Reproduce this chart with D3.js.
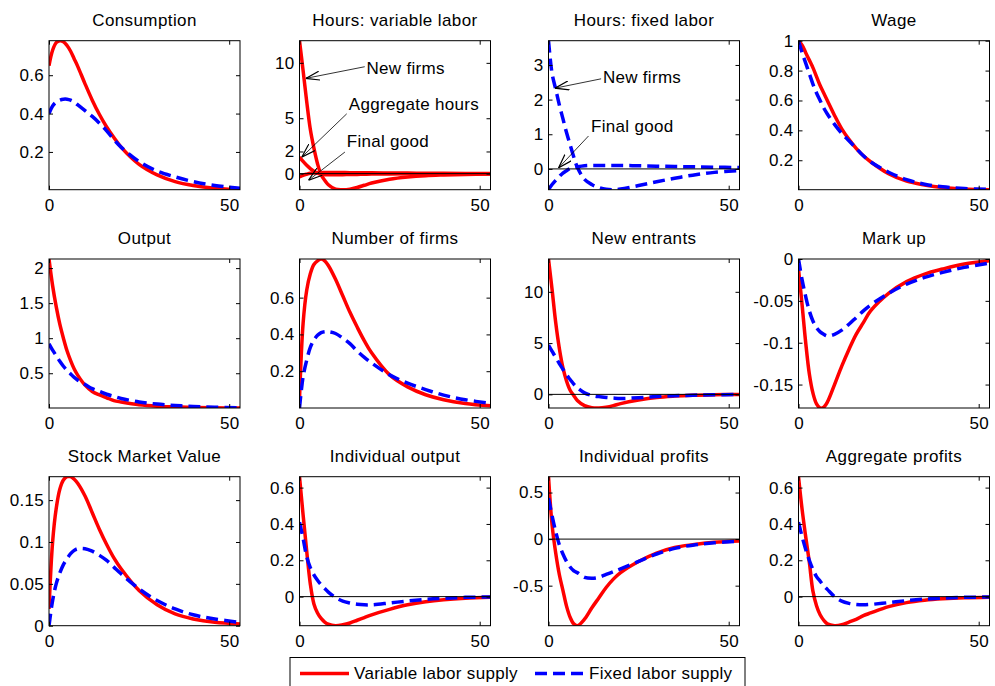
<!DOCTYPE html>
<html>
<head>
<meta charset="utf-8">
<script src="https://cdn.jsdelivr.net/npm/d3@7"></script>
<style>
  body { margin: 0; background: #fff; }
  svg { font-family: 'Liberation Sans', Arial, Helvetica, sans-serif; }
  .axis text { font-size: 17px; letter-spacing: 0.3px; fill: #000; }
  .axis line { stroke: #000; }
  .axis path { display: none; }
  .panel-title { font-size: 17px; letter-spacing: 0.4px; text-anchor: middle; }
  .note { font-size: 17px; letter-spacing: 0.3px; }
  .legend-text { font-size: 17px; letter-spacing: 0.3px; }
</style>
</head>
<body>
<svg id="chart"></svg>
<script>
// Periods after the shock (x values shared by every panel)
const periods = [0, 1, 2, 3, 4, 5, 6, 7, 8, 10, 12, 14, 16, 18, 20, 25, 30, 35, 40, 46, 53];
const xTicks = [0, 50];

// Consumption
const consumptionVariable = [0.65, 0.73, 0.77, 0.78, 0.775, 0.755, 0.725, 0.685, 0.645, 0.555, 0.47, 0.395, 0.33, 0.275, 0.225, 0.135, 0.08, 0.045, 0.025, 0.011, 0.003];
const consumptionFixed = [0.40, 0.44, 0.46, 0.47, 0.475, 0.475, 0.47, 0.46, 0.445, 0.415, 0.385, 0.35, 0.31, 0.265, 0.225, 0.15, 0.1, 0.07, 0.045, 0.025, 0.01];

// Hours: variable labor (three red curves)
const hoursVarNewFirms = [12.0, 9.3, 6.5, 4.0, 2.3, 0.9, -0.1, -0.6, -1.0, -1.4, -1.45, -1.4, -1.25, -1.05, -0.85, -0.5, -0.3, -0.18, -0.12, -0.07, -0.03];
const hoursVarAggregate = [1.5, 1.1, 0.75, 0.45, 0.22, 0.05, -0.05, -0.09, -0.1, -0.1, -0.09, -0.08, -0.07, -0.05, -0.04, -0.03, -0.02, -0.01, -0.01, 0, 0];
const hoursVarFinalGood = [-0.3, -0.15, -0.05, 0.03, 0.06, 0.08, 0.09, 0.1, 0.1, 0.1, 0.1, 0.09, 0.09, 0.08, 0.08, 0.06, 0.05, 0.04, 0.03, 0.02, 0.01];

// Hours: fixed labor (two blue curves)
const hoursFixNewFirms = [3.7, 2.75, 2.3, 1.85, 1.45, 1.05, 0.7, 0.35, 0.05, -0.3, -0.45, -0.54, -0.59, -0.6, -0.58, -0.48, -0.37, -0.27, -0.18, -0.1, -0.05];
const hoursFixFinalGood = [-0.6, -0.45, -0.33, -0.22, -0.12, -0.05, 0.01, 0.04, 0.06, 0.09, 0.1, 0.1, 0.1, 0.1, 0.1, 0.09, 0.08, 0.07, 0.06, 0.05, 0.04];

// Wage
const wageVariable = [1.0, 0.97, 0.92, 0.87, 0.82, 0.76, 0.7, 0.65, 0.6, 0.5, 0.41, 0.34, 0.28, 0.23, 0.19, 0.11, 0.06, 0.035, 0.018, 0.008, 0.003];
const wageFixed = [1.0, 0.92, 0.85, 0.78, 0.71, 0.65, 0.6, 0.55, 0.51, 0.44, 0.38, 0.33, 0.28, 0.23, 0.19, 0.12, 0.07, 0.04, 0.022, 0.011, 0.005];

// Output
const outputVariable = [2.13, 1.75, 1.45, 1.2, 1.0, 0.82, 0.68, 0.56, 0.47, 0.33, 0.24, 0.19, 0.15, 0.11, 0.09, 0.05, 0.03, 0.02, 0.012, 0.007, 0.004];
const outputFixed = [0.92, 0.83, 0.75, 0.67, 0.6, 0.54, 0.49, 0.44, 0.4, 0.34, 0.28, 0.24, 0.2, 0.17, 0.14, 0.09, 0.06, 0.04, 0.025, 0.015, 0.008];

// Number of firms
const firmsVariable = [0.05, 0.46, 0.64, 0.73, 0.78, 0.80, 0.81, 0.80, 0.775, 0.7, 0.61, 0.52, 0.44, 0.365, 0.3, 0.18, 0.115, 0.072, 0.045, 0.025, 0.012];
const firmsFixed = [0, 0.17, 0.26, 0.33, 0.37, 0.395, 0.41, 0.415, 0.415, 0.405, 0.38, 0.35, 0.31, 0.275, 0.245, 0.18, 0.135, 0.1, 0.07, 0.045, 0.025];

// New entrants
const entrantsVariable = [13.2, 10.2, 7.0, 4.5, 2.6, 1.3, 0.4, -0.1, -0.6, -1.1, -1.3, -1.33, -1.25, -1.1, -0.9, -0.55, -0.3, -0.17, -0.09, -0.04, -0.01];
const entrantsFixed = [4.8, 4.2, 3.6, 3.0, 2.45, 1.9, 1.45, 1.0, 0.65, 0.15, -0.1, -0.22, -0.3, -0.36, -0.4, -0.33, -0.22, -0.14, -0.08, -0.04, -0.01];

// Mark up
const markupVariable = [-0.012, -0.055, -0.1, -0.137, -0.16, -0.173, -0.178, -0.177, -0.171, -0.15, -0.128, -0.108, -0.09, -0.076, -0.062, -0.041, -0.027, -0.018, -0.012, -0.006, -0.002];
const markupFixed = [0, -0.025, -0.045, -0.062, -0.074, -0.082, -0.087, -0.09, -0.092, -0.09, -0.085, -0.078, -0.07, -0.062, -0.055, -0.041, -0.03, -0.022, -0.016, -0.01, -0.005];

// Stock market value
const stockVariable = [0.02, 0.1, 0.14, 0.163, 0.174, 0.178, 0.178, 0.175, 0.17, 0.155, 0.135, 0.115, 0.097, 0.081, 0.068, 0.042, 0.025, 0.014, 0.008, 0.004, 0.002];
const stockFixed = [0, 0.03, 0.05, 0.063, 0.073, 0.08, 0.086, 0.09, 0.092, 0.092, 0.089, 0.084, 0.078, 0.07, 0.062, 0.044, 0.03, 0.02, 0.013, 0.008, 0.004];

// Individual output
const indOutputVariable = [0.66, 0.45, 0.25, 0.07, -0.04, -0.09, -0.12, -0.14, -0.152, -0.16, -0.155, -0.145, -0.13, -0.115, -0.1, -0.07, -0.045, -0.028, -0.017, -0.009, -0.004];
const indOutputFixed = [0.41, 0.32, 0.22, 0.16, 0.12, 0.09, 0.065, 0.045, 0.025, -0.005, -0.025, -0.035, -0.042, -0.045, -0.045, -0.035, -0.024, -0.015, -0.009, -0.004, -0.002];

// Individual profits
const indProfitsVariable = [0.67, 0.15, -0.15, -0.38, -0.55, -0.72, -0.84, -0.91, -0.93, -0.86, -0.74, -0.63, -0.52, -0.43, -0.36, -0.24, -0.15, -0.09, -0.06, -0.035, -0.02];
const indProfitsFixed = [0.44, 0.25, 0.08, -0.06, -0.16, -0.24, -0.3, -0.34, -0.36, -0.41, -0.42, -0.41, -0.38, -0.35, -0.32, -0.24, -0.16, -0.1, -0.065, -0.04, -0.022];

// Aggregate profits
const aggProfitsVariable = [0.66, 0.48, 0.33, 0.19, 0.03, -0.05, -0.1, -0.13, -0.15, -0.16, -0.155, -0.14, -0.125, -0.105, -0.09, -0.055, -0.033, -0.02, -0.012, -0.006, -0.003];
const aggProfitsFixed = [0.41, 0.33, 0.26, 0.2, 0.15, 0.11, 0.085, 0.06, 0.04, 0.0, -0.025, -0.037, -0.043, -0.045, -0.043, -0.033, -0.022, -0.014, -0.008, -0.004, -0.002];

// Panel titles and y tick labels
const panelTitles = ['Consumption', 'Hours: variable labor', 'Hours: fixed labor', 'Wage',
  'Output', 'Number of firms', 'New entrants', 'Mark up',
  'Stock Market Value', 'Individual output', 'Individual profits', 'Aggregate profits'];
const panelYTicks = [
  [0.2, 0.4, 0.6], [0, 2, 5, 10], [0, 1, 2, 3], [0.2, 0.4, 0.6, 0.8, 1],
  [0.5, 1, 1.5, 2], [0.2, 0.4, 0.6], [0, 5, 10], [-0.15, -0.1, -0.05, 0],
  [0, 0.05, 0.1, 0.15], [0, 0.2, 0.4, 0.6], [-0.5, 0, 0.5], [0, 0.2, 0.4, 0.6]];
const legendLabels = ['Variable labor supply', 'Fixed labor supply'];

// Series of each panel ('variable' = red solid, 'fixed' = blue dashed)
const panelSeries = [
  [['variable', consumptionVariable], ['fixed', consumptionFixed]],
  [['variable', hoursVarNewFirms], ['variable', hoursVarAggregate], ['variable', hoursVarFinalGood]],
  [['fixed', hoursFixNewFirms], ['fixed', hoursFixFinalGood]],
  [['variable', wageVariable], ['fixed', wageFixed]],
  [['variable', outputVariable], ['fixed', outputFixed]],
  [['variable', firmsVariable], ['fixed', firmsFixed]],
  [['variable', entrantsVariable], ['fixed', entrantsFixed]],
  [['variable', markupVariable], ['fixed', markupFixed]],
  [['variable', stockVariable], ['fixed', stockFixed]],
  [['variable', indOutputVariable], ['fixed', indOutputFixed]],
  [['variable', indProfitsVariable], ['fixed', indProfitsFixed]],
  [['variable', aggProfitsVariable], ['fixed', aggProfitsFixed]]
];
const zeroLinePanels = [1, 2, 6, 9, 10, 11];

// Text arrows (in data units of their panel): label spot, arrow tail, arrow head
const panelNotes = {
  1: [
    { label: 'New firms', at: [18.6, 9.5], from: [18.1, 9.65], to: [1.75, 8.6] },
    { label: 'Aggregate hours', at: [13.7, 6.2], from: [13.1, 5.4], to: [0.65, 1.5] },
    { label: 'Final good', at: [13.1, 2.9], from: [12.6, 1.95], to: [2.5, -0.6] }
  ],
  2: [
    { label: 'New firms', at: [15.1, 2.65], from: [14.6, 2.6], to: [1.8, 2.33] },
    { label: 'Final good', at: [11.8, 1.21], from: [11.1, 0.95], to: [2.8, 0.03] }
  ]
};

const colors = { variable: '#ff0000', fixed: '#0000ff' };

// Define class IrfPanel
class IrfPanel {
  constructor(_configure, _series, _title, _yTicks, _notes) {
    this.configure = {
      parentElement: _configure.parentElement,
      left: _configure.left,
      top: _configure.top,
      width: _configure.width || 191,
      height: _configure.height || 149,
      zeroLine: _configure.zeroLine || false,
      id: _configure.id
    };
    this.series = _series;
    this.title = _title;
    this.yTicks = _yTicks;
    this.notes = _notes || [];
    this.initApp();
  }

  initApp() {
    let app = this;
    const cfg = app.configure;
    app.xScale = d3.scaleLinear().domain([0, d3.max(periods)]).range([0, cfg.width]);
    // tight y limits like the original
    const all = app.series.flatMap(s => s[1]);
    app.yScale = d3.scaleLinear().domain(d3.extent(all)).range([cfg.height, 0]);

    app.chart = d3.select(cfg.parentElement).append('g')
      .attr('transform', `translate(${cfg.left},${cfg.top})`);

    app.chart.append('clipPath').attr('id', `clip${cfg.id}`)
      .append('rect').attr('width', cfg.width).attr('height', cfg.height);

    app.chart.append('rect')
      .attr('width', cfg.width).attr('height', cfg.height)
      .attr('fill', '#fff');

    app.renderApp();
  }

  renderApp() {
    let app = this;
    const cfg = app.configure;
    const line = d3.line()
      .x((d, i) => app.xScale(periods[i]))
      .y(d => app.yScale(d))
      .curve(d3.curveCatmullRom.alpha(0.5));

    const plot = app.chart.append('g').attr('clip-path', `url(#clip${cfg.id})`);
    // red first, blue dashed on top
    const ordered = app.series.filter(s => s[0] === 'variable').concat(app.series.filter(s => s[0] === 'fixed'));
    plot.selectAll('.irf').data(ordered).join('path')
      .attr('class', 'irf')
      .attr('fill', 'none')
      .attr('stroke', d => colors[d[0]])
      .attr('stroke-width', 3.5)
      .attr('stroke-dasharray', d => d[0] === 'fixed' ? '12,6' : null)
      .attr('d', d => line(d[1]));

    if (cfg.zeroLine) {
      plot.append('line')
        .attr('x1', 0).attr('x2', cfg.width)
        .attr('y1', app.yScale(0)).attr('y2', app.yScale(0))
        .attr('stroke', '#000').attr('stroke-width', 1);
    }

    // Axes, ticks pointing inward on all four sides
    const fmt = d => String(d);
    app.chart.append('g').attr('class', 'axis')
      .attr('transform', `translate(0,${cfg.height})`)
      .call(d3.axisBottom(app.xScale).tickValues(xTicks).tickFormat(fmt).tickSizeInner(-4).tickSizeOuter(0).tickPadding(9));
    app.chart.append('g').attr('class', 'axis')
      .call(d3.axisTop(app.xScale).tickValues(xTicks).tickFormat('').tickSizeInner(-4).tickSizeOuter(0));
    app.chart.append('g').attr('class', 'axis')
      .call(d3.axisLeft(app.yScale).tickValues(app.yTicks).tickFormat(fmt).tickSizeInner(-4).tickSizeOuter(0).tickPadding(5));
    app.chart.append('g').attr('class', 'axis')
      .attr('transform', `translate(${cfg.width},0)`)
      .call(d3.axisRight(app.yScale).tickValues(app.yTicks).tickFormat('').tickSizeInner(-4).tickSizeOuter(0));

    app.chart.append('rect')
      .attr('width', cfg.width).attr('height', cfg.height)
      .attr('fill', 'none').attr('stroke', '#000').attr('stroke-width', 1);

    app.chart.append('text').attr('class', 'panel-title')
      .attr('x', cfg.width / 2).attr('y', -15)
      .text(app.title);

    // Arrow annotations
    app.chart.selectAll('.note-arrow').data(app.notes).join('line')
      .attr('class', 'note-arrow')
      .attr('x1', d => app.xScale(d.from[0])).attr('y1', d => app.yScale(d.from[1]))
      .attr('x2', d => app.xScale(d.to[0])).attr('y2', d => app.yScale(d.to[1]))
      .attr('stroke', '#000').attr('stroke-width', 0.8)
      .attr('marker-end', 'url(#arrowhead)');
    app.chart.selectAll('.note').data(app.notes).join('text')
      .attr('class', 'note')
      .attr('x', d => app.xScale(d.at[0])).attr('y', d => app.yScale(d.at[1]))
      .attr('dominant-baseline', 'central')
      .text(d => d.label);
  }
}

const svg = d3.select('#chart').attr('width', 995).attr('height', 686);
svg.append('rect').attr('width', 995).attr('height', 686).attr('fill', '#fff');
svg.append('defs').append('marker')
  .attr('id', 'arrowhead')
  .attr('viewBox', '0 0 14 10')
  .attr('refX', 14).attr('refY', 5)
  .attr('markerWidth', 14).attr('markerHeight', 10)
  .attr('markerUnits', 'userSpaceOnUse')
  .attr('orient', 'auto')
  .append('path')
  .attr('d', 'M0,0.5 L14,5 L0,9.5')
  .attr('fill', 'none').attr('stroke', '#000').attr('stroke-width', 1.2);

// Grid layout of the twelve panels
const colLeft = [49, 299.5, 548.5, 798.5];
const rowTop = [40.7, 259, 476.7];

panelTitles.forEach((title, i) => {
  new IrfPanel({
    parentElement: '#chart',
    left: colLeft[i % 4],
    top: rowTop[Math.floor(i / 4)],
    zeroLine: zeroLinePanels.includes(i),
    id: i
  }, panelSeries[i], title, panelYTicks[i], panelNotes[i]);
});

// Legend
const legend = svg.append('g').attr('transform', 'translate(290,657.5)');
legend.append('rect').attr('width', 455).attr('height', 40)
  .attr('fill', '#fff').attr('stroke', '#000').attr('stroke-width', 1);
const legendItems = [['variable', legendLabels[0], 10], ['fixed', legendLabels[1], 245]];
legendItems.forEach(([kind, label, x]) => {
  legend.append('line')
    .attr('x1', x).attr('x2', x + 49).attr('y1', 16).attr('y2', 16)
    .attr('stroke', colors[kind]).attr('stroke-width', 3.5)
    .attr('stroke-dasharray', kind === 'fixed' ? '12,6' : null);
  legend.append('text').attr('class', 'legend-text')
    .attr('x', x + 54).attr('y', 16).attr('dominant-baseline', 'central')
    .text(label);
});
</script>
</body>
</html>
